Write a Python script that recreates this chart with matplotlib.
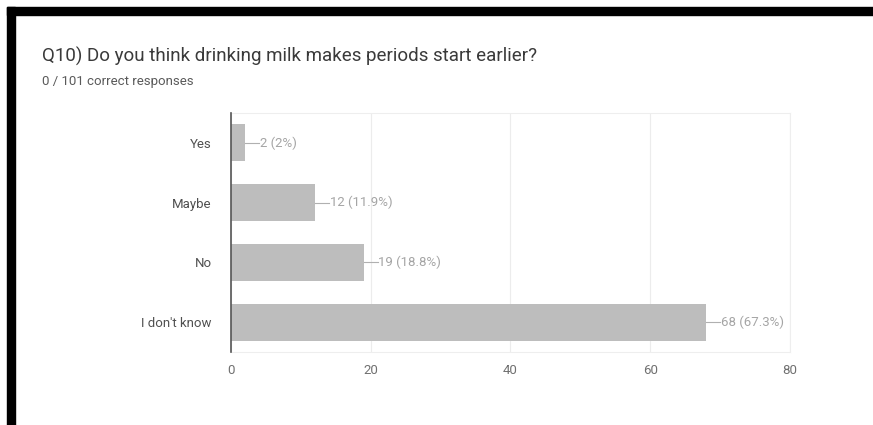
import matplotlib.pyplot as plt
from matplotlib.patches import Rectangle

# === Data ===
categories = ['Yes', 'Maybe', 'No', "I don't know"]
counts = [2, 12, 19, 68]
percents = ['2%', '11.9%', '18.8%', '67.3%']
x_ticks = [0, 20, 40, 60, 80]

title = 'Q10) Do you think drinking milk makes periods start earlier?'
subtitle = '0 / 101 correct responses'

# === Figure ===
plt.rcParams['font.family'] = ['Roboto', 'DejaVu Sans']
fig = plt.figure(figsize=(8.73, 4.25), dpi=100)
fig.patch.set_facecolor('white')

# black frame on top and left edges (screenshot border)
fig.patches.append(Rectangle((7 / 873, 0), 8 / 873, 1 - 7 / 425,
                             transform=fig.transFigure, color='black', zorder=10))
fig.patches.append(Rectangle((7 / 873, 1 - 15 / 425), 1, 8 / 425,
                             transform=fig.transFigure, color='black', zorder=10))

ax = fig.add_axes([231 / 873, 1 - 352 / 425, 559 / 873, 239 / 425])

y_pos = list(range(len(categories)))
ax.barh(y_pos, counts, height=0.62, color='#bdbdbd', zorder=2)

for y, c, p in zip(y_pos, counts, percents):
    ax.plot([c, c + 2.0], [y, y], color='#b0b0b0', lw=0.8, zorder=3)
    ax.text(c + 2.1, y, f'{c} ({p})', va='center', ha='left',
            fontsize=9.5, color='#a5a5a5')

ax.set_xlim(0, 80)
ax.set_ylim(len(categories) - 0.5, -0.5)
ax.set_yticks(y_pos)
ax.set_yticklabels(categories, fontsize=9.5, color='#505050')
ax.set_xticks(x_ticks)
ax.set_xticklabels([str(t) for t in x_ticks], fontsize=9.5, color='#707070')
ax.tick_params(axis='both', length=0)
ax.tick_params(axis='y', pad=14)
ax.tick_params(axis='x', pad=9)

ax.grid(axis='x', color='#ececec', lw=0.8, zorder=0)
for side in ['top', 'right', 'bottom']:
    ax.spines[side].set_color('#eeeeee')
    ax.spines[side].set_linewidth(0.8)
ax.spines['left'].set_color('#555555')
ax.spines['left'].set_linewidth(1.2)
ax.spines['left'].set_zorder(4)

fig.text(42 / 873, 1 - 56 / 425, title, fontsize=13.5, color='#3a3a3a',
         va='center', ha='left')
fig.text(42 / 873, 1 - 81 / 425, subtitle, fontsize=9.5, color='#5a5a5a',
         va='center', ha='left')

fig.savefig('out.png', dpi=100)
